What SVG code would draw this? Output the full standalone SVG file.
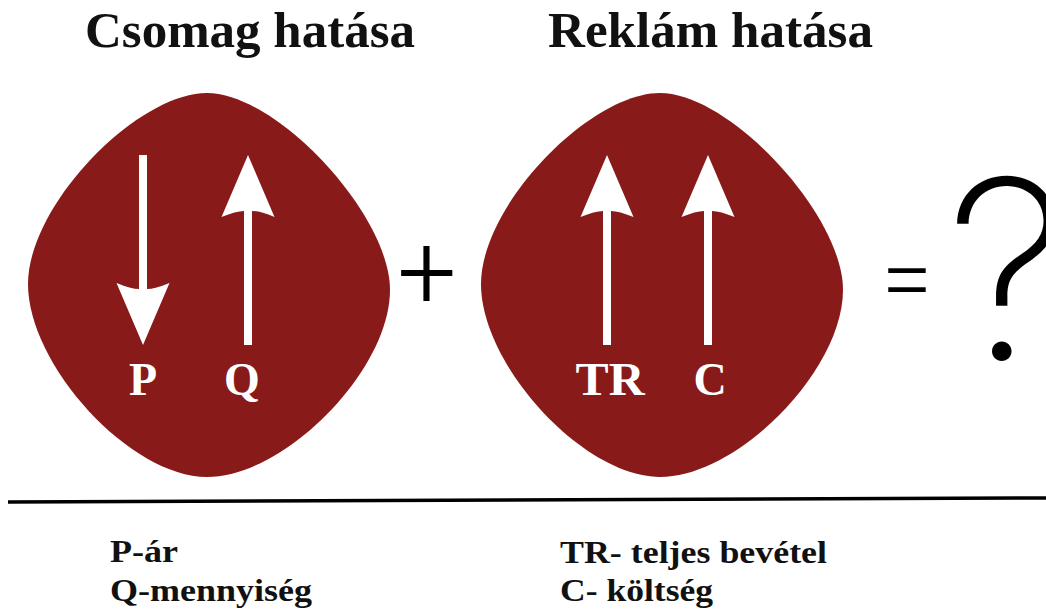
<svg xmlns="http://www.w3.org/2000/svg" xmlns:xlink="http://www.w3.org/1999/xlink" width="1046" height="609" viewBox="0 0 1046 609">
<style>
.title{font-family:"Liberation Serif","Times New Roman",serif;font-weight:bold;font-size:50px;fill:#111;}
.lbl{font-family:"Liberation Serif","Times New Roman",serif;font-weight:bold;font-size:46px;fill:#fff;text-anchor:middle;}
.legend{font-family:"Liberation Serif","Times New Roman",serif;font-weight:bold;font-size:32px;fill:#111;}
.blob{fill:#891a1a;}
.arrow{fill:#fff;}
.op{font-family:Roboto,"Open Sans","DejaVu Sans",sans-serif;font-weight:300;fill:#000;text-anchor:middle;}
.qm{font-family:Inter,Lato,Roboto,"DejaVu Sans",sans-serif;font-weight:200;fill:#000;letter-spacing:-22px;}
</style>
<defs>
<path id="blobShape" d="M207,93 C277,93 390,215 390,290 C390,370 285,477 207,477 C130,477 28,365 28,284 C28,205 137,93 207,93 Z"/>
<path id="arrowUp" d="M0,0 L-26.5,62 Q-12,56 -4,56 V190 H4 V56 Q12,56 26.5,62 Z"/>
</defs>
<rect width="1046" height="609" fill="#fff"/>
<g id="title-csomag"><text class="title" x="85" y="47" textLength="330" lengthAdjust="spacingAndGlyphs">Csomag hatása</text></g>
<g id="title-reklam"><text class="title" x="548" y="47" textLength="325" lengthAdjust="spacingAndGlyphs">Reklám hatása</text></g>
<g id="node-csomag">
<use xlink:href="#blobShape" class="blob"/>
<use xlink:href="#arrowUp" class="arrow" transform="translate(143,345) rotate(180)"/>
<use xlink:href="#arrowUp" class="arrow" transform="translate(248,155)"/>
<text class="lbl" x="143" y="395">P</text>
<text class="lbl" x="242" y="395">Q</text>
</g>
<g id="node-reklam">
<use xlink:href="#blobShape" class="blob" transform="translate(453,0)"/>
<use xlink:href="#arrowUp" class="arrow" transform="translate(607,155)"/>
<use xlink:href="#arrowUp" class="arrow" transform="translate(708,155)"/>
<text class="lbl" x="610" y="395" textLength="69" lengthAdjust="spacingAndGlyphs">TR</text>
<text class="lbl" x="710" y="395">C</text>
</g>
<g id="op-plus"><text class="op" x="427" y="308" font-size="105">+</text></g>
<g id="op-equals"><text class="op" x="907" y="311" font-size="92">=</text></g>
<g id="node-question"><text class="qm" x="946" y="360" font-size="250">?</text></g>
<g id="connectors">
<line x1="8" y1="502" x2="1046" y2="498" stroke="#000" stroke-width="3.5"/>
</g>
<g id="legend-left">
<text class="legend" x="110" y="562" textLength="68" lengthAdjust="spacingAndGlyphs">P-ár</text>
<text class="legend" x="110" y="601" textLength="202" lengthAdjust="spacingAndGlyphs">Q-mennyiség</text>
</g>
<g id="legend-right">
<text class="legend" x="560" y="563" textLength="267" lengthAdjust="spacingAndGlyphs">TR- teljes bevétel</text>
<text class="legend" x="560" y="601" textLength="153" lengthAdjust="spacingAndGlyphs">C- költség</text>
</g>
</svg>
